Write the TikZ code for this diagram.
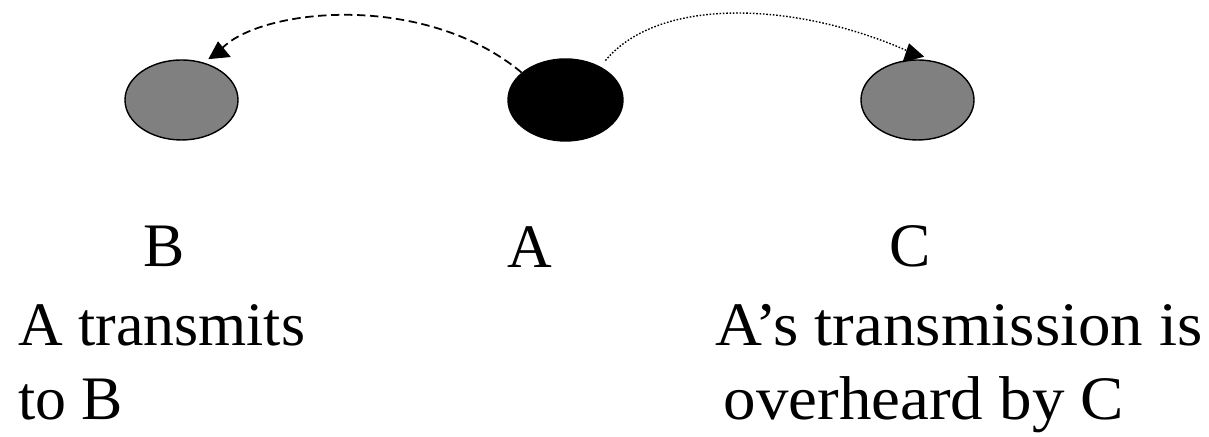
\documentclass[tikz,border=0pt]{standalone}
\usepackage{fontspec}
\setmainfont{Liberation Serif}
\newfontfamily\widefont[FakeStretch=1.05]{Liberation Serif}
\usetikzlibrary{arrows.meta, shapes.geometric, positioning}

\begin{document}
\begin{tikzpicture}[thin, >={Triangle[length=4.8pt, width=6.3pt]}, font=\fontsize{17.6}{21.3}\selectfont]

    % Custom styles for stations and labels
    \tikzset{
        station/.style={ellipse, draw=black, fill=gray, inner sep=0pt,
            minimum width=1.13cm, minimum height=0.80cm},
        lbl/.style={inner sep=0pt, anchor=base},
        desc/.style={inner sep=0pt, anchor=base west, align=left}
    }
    \useasboundingbox (0,0) rectangle (12.09,4.37);

    % ==========================================
    % Stations
    % ==========================================
    \node[station] (B) at (1.815,3.37) {};
    \node[station, fill=black, minimum width=1.15cm, minimum height=0.82cm] (A) at (5.655,3.37) {};
    \node[station] (C) at (9.175,3.37) {};

    % Station names
    \node[lbl] (nameB) at (1.645,1.70) {B};
    \node[lbl] (nameA) at (5.30,1.69) {A};
    \node[lbl] (nameC) at (9.105,1.70) {C};

    % Captions (base = last line)
    \node[desc] (capB) at (0.175,0.17) {A transmits\\to B};
    \node[desc, font=\widefont\fontsize{17.6}{21.3}\selectfont] (capC) at (7.15,0.17)
        {A’s transmission is\\\hspace*{0.08cm}overheard by C};

    % ==========================================
    % Transmissions
    % ==========================================
    % A sends to B (dashed)
    \draw[->, line width=0.5pt, dash pattern=on 2.4pt off 1.3pt]
        (A.148) .. controls (4.20,4.49) and (2.50,4.27) .. (2.19,3.85)
        -- ([shift={(0.365,0.18)}]B.north);
    % C overhears A (dotted)
    \draw[->, line width=0.4pt, dash pattern=on 0.45pt off 0.5pt]
        ([shift={(0.06,0.055)}]A.45) .. controls (6.60,4.42) and (8.00,4.35) .. (9.115,3.843)
        -- ([shift={(-0.085,0.16)}]C.north);

\end{tikzpicture}
\end{document}
